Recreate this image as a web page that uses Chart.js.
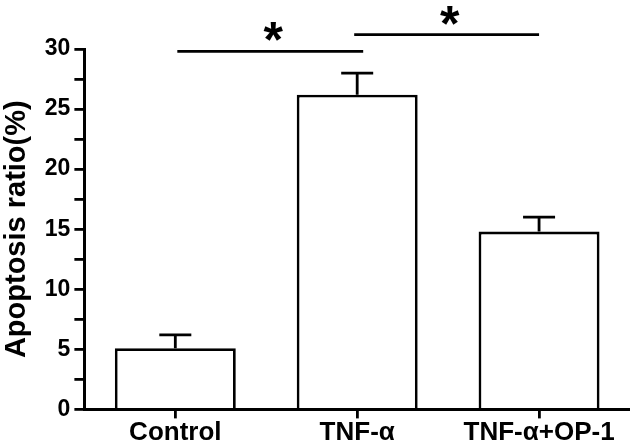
<!DOCTYPE html>
<html>
<head>
<meta charset="utf-8">
<script src="https://cdn.jsdelivr.net/npm/chart.js@4"></script>
<style>
  html, body { margin: 0; padding: 0; background: #fff; }
  #wrap { width: 630px; height: 447px; }
</style>
</head>
<body>
<div id="wrap"><canvas id="apoptosisChart"></canvas></div>
<script>
const categories = ['Control', 'TNF-α', 'TNF-α+OP-1'];
const meanValues = [5.1, 26.2, 14.8];
const upperError = [6.2, 28.0, 16.0];
const sigFrom = [0, 1];
const sigTo = [1, 2];
const sigLevel = [29.8, 31.2];
const yTicks = [0, 5, 10, 15, 20, 25, 30];

const FONT = '"Liberation Sans", Arial, sans-serif';

const errorBars = {
    id: 'errorBars',
    afterDatasetsDraw(chart) {
        const ctx = chart.ctx;
        const y = chart.scales.y;
        const meta = chart.getDatasetMeta(0);
        ctx.save();
        ctx.strokeStyle = '#000';
        ctx.lineWidth = 2.8;
        meta.data.forEach((bar, i) => {
            const top = y.getPixelForValue(upperError[i]);
            ctx.beginPath();
            ctx.moveTo(bar.x, bar.y);
            ctx.lineTo(bar.x, top);
            ctx.moveTo(bar.x - 16, top);
            ctx.lineTo(bar.x + 16, top);
            ctx.stroke();
        });
        ctx.restore();
    }
};

const significance = {
    id: 'significance',
    afterDraw(chart) {
        const ctx = chart.ctx;
        const x = chart.scales.x;
        const y = chart.scales.y;
        ctx.save();
        ctx.strokeStyle = '#000';
        ctx.fillStyle = '#000';
        ctx.lineWidth = 2.8;
        ctx.font = 'bold 50px ' + FONT;
        ctx.textAlign = 'center';
        ctx.textBaseline = 'alphabetic';
        sigFrom.forEach((from, i) => {
            const x0 = x.getPixelForValue(from) + (i === 0 ? 2 : -3);
            const x1 = x.getPixelForValue(sigTo[i]) + (i === 0 ? 6 : 0);
            const yy = y.getPixelForValue(sigLevel[i]);
            ctx.beginPath();
            ctx.moveTo(x0, yy);
            ctx.lineTo(x1, yy);
            ctx.stroke();
            ctx.fillText('*', (x0 + x1) / 2 + 3, yy + 6);
        });
        ctx.restore();
    }
};

new Chart(document.getElementById('apoptosisChart'), {
    type: 'bar',
    data: {
        labels: categories,
        datasets: [{
            data: meanValues,
            backgroundColor: '#fff',
            borderColor: '#000',
            borderWidth: 2.8,
            borderSkipped: 'bottom',
            categoryPercentage: 1,
            barPercentage: 0.665
        }]
    },
    options: {
        responsive: true,
        maintainAspectRatio: false,
        animation: false,
        layout: { padding: { top: 49, right: 0, left: 0, bottom: 0 } },
        plugins: { legend: { display: false }, tooltip: { enabled: false } },
        scales: {
            x: {
                grid: { display: true, offset: false, drawOnChartArea: false, drawTicks: true, tickLength: 9, color: '#000', lineWidth: 2.8 },
                border: { display: true, color: '#000', width: 3 },
                ticks: { color: '#000', font: { family: FONT, size: 26, weight: 'bold', lineHeight: 1.1 }, padding: 0, maxRotation: 0 }
            },
            y: {
                min: 0,
                max: 30,
                grid: { display: true, drawOnChartArea: false, drawTicks: true, tickLength: 10, color: '#000', lineWidth: 2.8 },
                border: { display: true, color: '#000', width: 3 },
                ticks: {
                    stepSize: 2.5,
                    autoSkip: false,
                    color: '#000',
                    padding: 4,
                    font: { family: FONT, size: 23, weight: 'bold' },
                    callback: v => yTicks.includes(v) ? v : ''
                },
                title: {
                    display: true,
                    text: 'Apoptosis ratio(%)',
                    color: '#000',
                    font: { family: FONT, size: 29, weight: 'bold' },
                    padding: { top: 0, bottom: 6 }
                }
            }
        }
    },
    plugins: [errorBars, significance]
});
</script>
</body>
</html>
